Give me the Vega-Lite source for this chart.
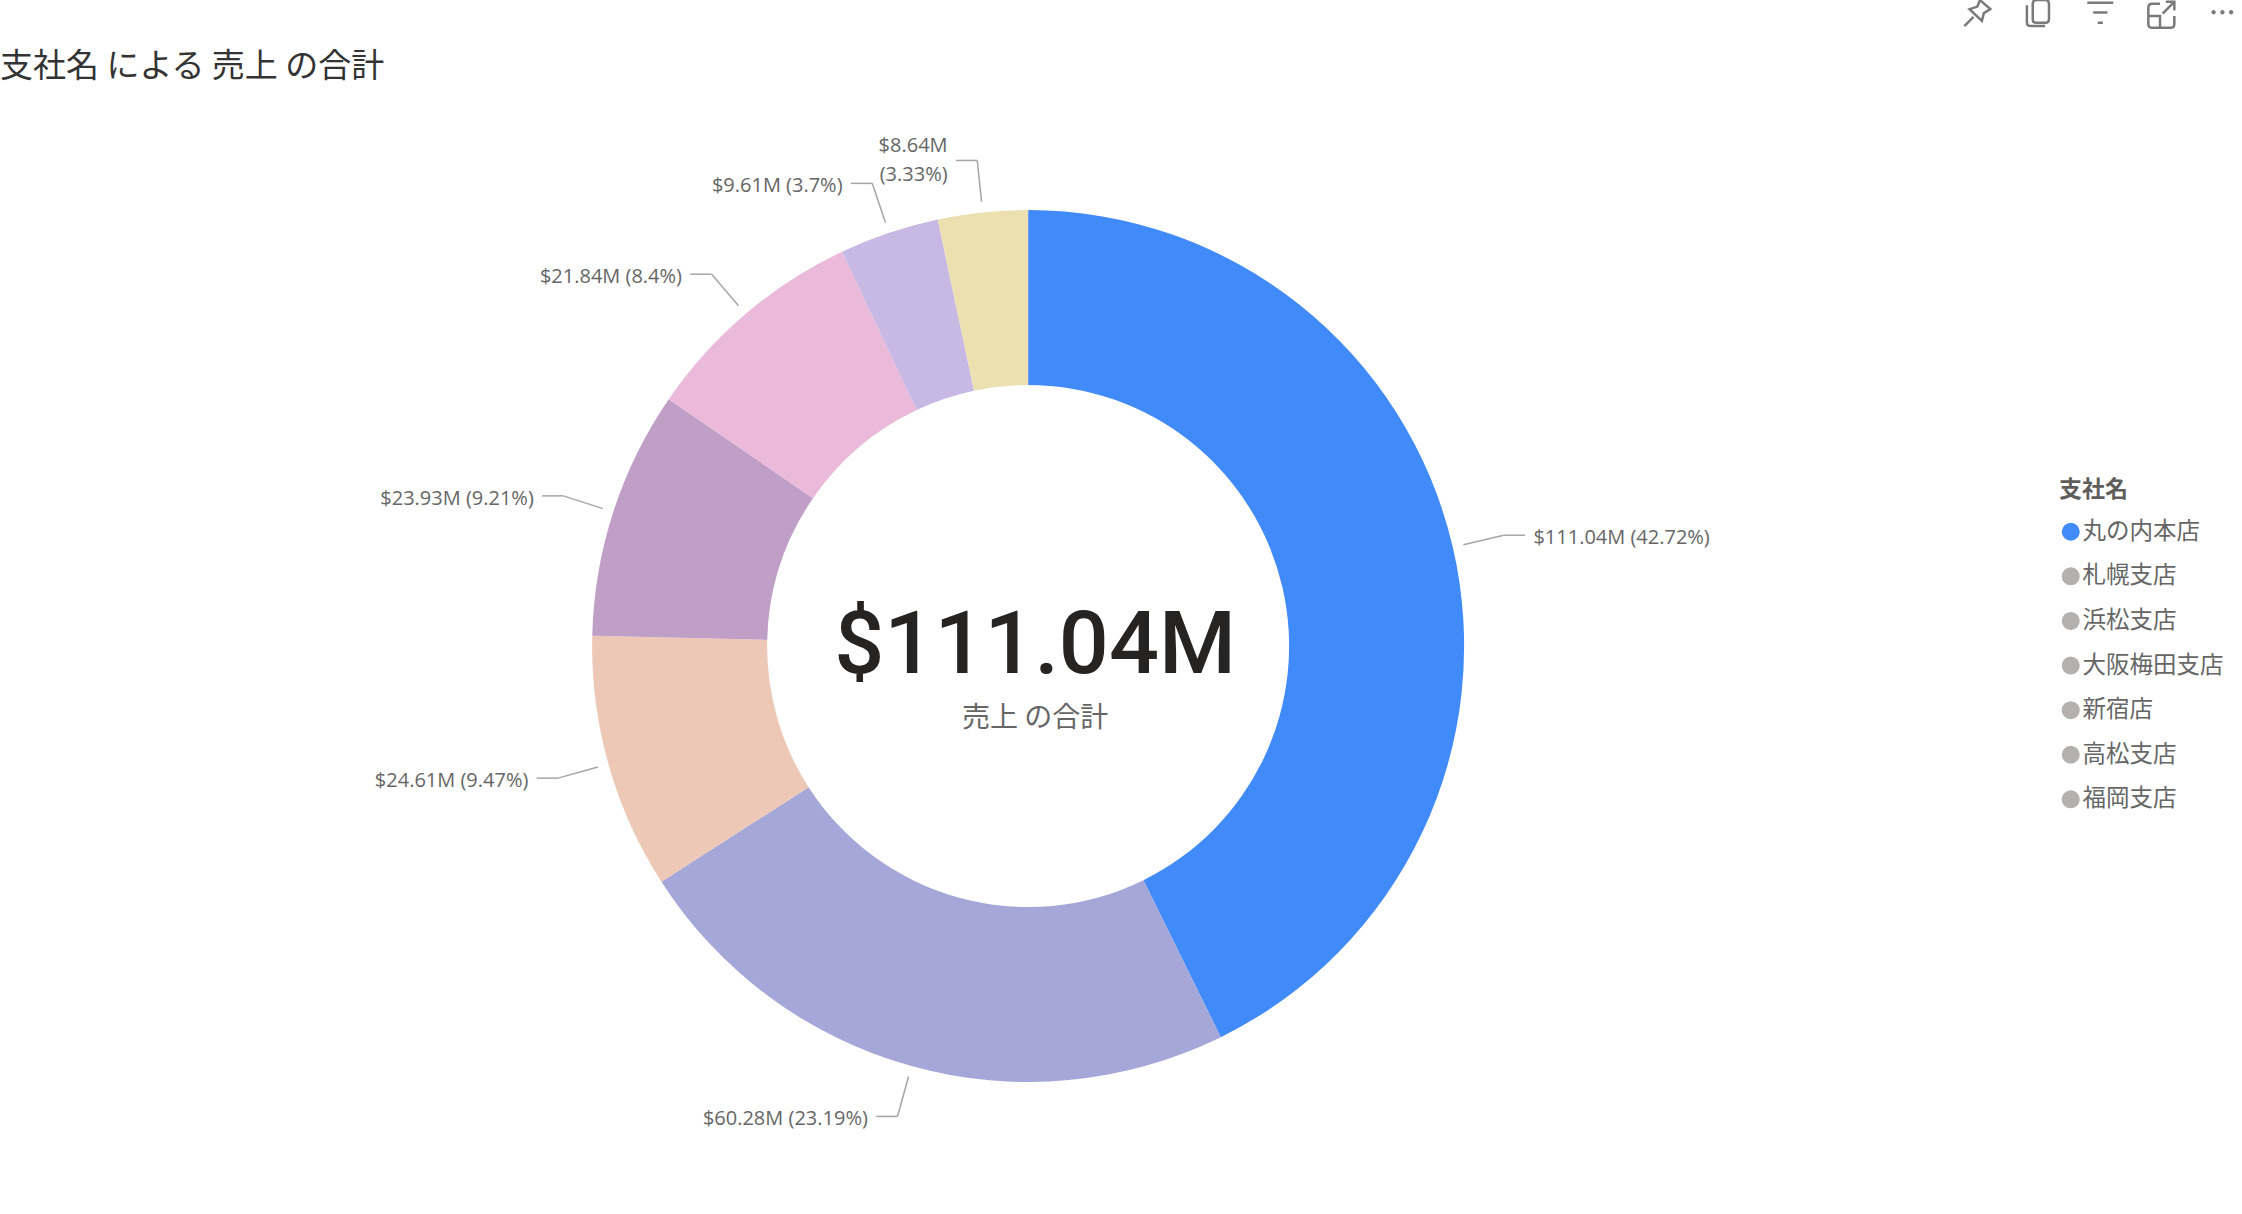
{
  "$schema": "https://vega.github.io/schema/vega-lite/v6.json",
  "description": "Power BI donut of sales by branch",
  "width": 2242,
  "height": 1214,
  "padding": 0,
  "autosize": {"type": "none"},
  "background": "white",
  "title": {
    "text": "支社名 による 売上 の合計",
    "anchor": "start",
    "frame": "group",
    "offset": -115,
    "baseline": "alphabetic",
    "font": "Noto Sans CJK JP",
    "fontSize": 33,
    "fontWeight": "normal",
    "color": "#333333"
  },
  "config": {"view": {"stroke": null}},
  "data": {
    "values": [
      {"rank": 1, "branch": "丸の内本店", "sales": 111.04, "label": "$111.04M (42.72%)"},
      {"rank": 2, "branch": "札幌支店", "sales": 60.28, "label": "$60.28M (23.19%)"},
      {"rank": 3, "branch": "浜松支店", "sales": 24.61, "label": "$24.61M (9.47%)"},
      {"rank": 4, "branch": "大阪梅田支店", "sales": 23.93, "label": "$23.93M (9.21%)"},
      {"rank": 5, "branch": "新宿店", "sales": 21.84, "label": "$21.84M (8.4%)"},
      {"rank": 6, "branch": "高松支店", "sales": 9.61, "label": "$9.61M (3.7%)"},
      {"rank": 7, "branch": "福岡支店", "sales": 8.64, "label": "$8.64M\n(3.33%)"}
    ]
  },
  "transform": [
    {"stack": "sales", "groupby": [], "sort": [{"field": "rank", "order": "ascending"}], "as": ["s0", "s1"]},
    {"joinaggregate": [{"op": "sum", "field": "sales", "as": "total"}]},
    {"calculate": "PI * (datum.s0 + datum.s1) / datum.total", "as": "mid"},
    {"calculate": "sin(datum.mid)", "as": "sx"},
    {"calculate": "cos(datum.mid)", "as": "cy"},
    {"calculate": "1.025 * datum.sx", "as": "lineX0"},
    {"calculate": "1.025 * datum.cy", "as": "lineY0"},
    {"calculate": "1.12 * datum.sx", "as": "kneeX"},
    {"calculate": "1.12 * datum.cy", "as": "kneeY"},
    {"calculate": "datum.kneeX + (datum.sx > 0 ? 0.049 : -0.049)", "as": "endX"},
    {"calculate": "datum.kneeX + (datum.sx > 0 ? 0.068 : -0.068)", "as": "labelX"}
  ],
  "layer": [
    {
      "mark": {"type": "point", "filled": true, "size": 1},
      "encoding": {
        "x": {"datum": 0, "type": "quantitative", "axis": null, "scale": {"domain": [-2.358, 2.784], "nice": false, "zero": false}},
        "y": {"datum": 0.8, "type": "quantitative", "axis": null, "scale": {"domain": [-1.303, 1.482], "nice": false, "zero": false}},
        "color": {
          "field": "branch",
          "type": "nominal",
          "scale": {
            "domain": ["丸の内本店", "札幌支店", "浜松支店", "大阪梅田支店", "新宿店", "高松支店", "福岡支店"],
            "range": ["#408AF9", "#B3B0AD", "#B3B0AD", "#B3B0AD", "#B3B0AD", "#B3B0AD", "#B3B0AD"]
          },
          "legend": {
            "title": "支社名",
            "orient": "none",
            "legendX": 2059,
            "legendY": 479,
            "titleFont": "Noto Sans CJK JP",
            "titleFontSize": 23,
            "titleFontWeight": "bold",
            "titleColor": "#605E5C",
            "titlePadding": 18,
            "labelFont": "Noto Sans CJK JP",
            "labelFontSize": 23.5,
            "labelColor": "#666666",
            "labelOffset": 0,
            "symbolType": "circle",
            "symbolSize": 324,
            "symbolOpacity": 1,
            "rowPadding": 19.6
          }
        }
      }
    },
    {
      "mark": {"type": "arc", "outerRadius": 436, "innerRadius": 261},
      "encoding": {
        "x": {"datum": 0, "type": "quantitative"},
        "y": {"datum": 0, "type": "quantitative"},
        "theta": {"field": "s0", "type": "quantitative", "scale": {"domain": [0, 259.95], "nice": false}},
        "theta2": {"field": "s1"},
        "fill": {
          "field": "branch",
          "type": "nominal",
          "legend": null,
          "scale": {
            "domain": ["丸の内本店", "札幌支店", "浜松支店", "大阪梅田支店", "新宿店", "高松支店", "福岡支店"],
            "range": ["#408AF9", "#A4A7D8", "#EEC8B6", "#C09FC7", "#EBB9DA", "#C7B9E3", "#ECE0B1"]
          }
        }
      }
    },
    {
      "mark": {"type": "rule", "color": "#A6A6A6", "strokeWidth": 1.5},
      "encoding": {
        "x": {"field": "lineX0", "type": "quantitative"},
        "y": {"field": "lineY0", "type": "quantitative"},
        "x2": {"field": "kneeX"},
        "y2": {"field": "kneeY"}
      }
    },
    {
      "mark": {"type": "rule", "color": "#A6A6A6", "strokeWidth": 1.5},
      "encoding": {
        "x": {"field": "kneeX", "type": "quantitative"},
        "y": {"field": "kneeY", "type": "quantitative"},
        "x2": {"field": "endX"}
      }
    },
    {
      "mark": {
        "type": "text",
        "font": "Open Sans",
        "fontSize": 20,
        "color": "#666666",
        "baseline": "middle",
        "lineBreak": "\n",
        "lineHeight": 29,
        "dy": {"expr": "indexof(datum.label, '\\n') >= 0 ? -14 : 3"},
        "align": {"expr": "datum.sx > 0 ? 'left' : 'right'"}
      },
      "encoding": {
        "x": {"field": "labelX", "type": "quantitative"},
        "y": {"field": "kneeY", "type": "quantitative"},
        "text": {"field": "label", "type": "nominal"}
      }
    },
    {
      "data": {"values": [{"text": "$111.04M"}]},
      "mark": {"type": "text", "font": "Roboto", "fontSize": 88, "fontWeight": 500, "color": "#252423", "baseline": "alphabetic", "align": "center"},
      "encoding": {
        "x": {"datum": 0.016, "type": "quantitative"},
        "y": {"datum": -0.062, "type": "quantitative"},
        "text": {"field": "text", "type": "nominal"}
      }
    },
    {
      "data": {"values": [{"text": "売上 の合計"}]},
      "mark": {"type": "text", "font": "Noto Sans CJK JP", "fontSize": 28, "color": "#666666", "baseline": "alphabetic", "align": "center"},
      "encoding": {
        "x": {"datum": 0.016, "type": "quantitative"},
        "y": {"datum": -0.186, "type": "quantitative"},
        "text": {"field": "text", "type": "nominal"}
      }
    },
    {
      "data": {"values": [{"icon": "pin"}]},
      "mark": {"type": "point", "shape": "M-1 1L-.3 .3M.2 -1L1 -.3L.5 0L.35 .6L-.6 -.3L0 -.5Z", "size": 676, "filled": false, "stroke": "#7A7A7A", "strokeWidth": 2.5, "opacity": 1},
      "encoding": {"x": {"datum": 2.177, "type": "quantitative"}, "y": {"datum": 1.452, "type": "quantitative"}}
    },
    {
      "data": {"values": [{"icon": "copy"}]},
      "mark": {"type": "point", "shape": "M-.85 -.6V.7Q-.85 1 -.55 1H.55M-.4 -1H.6Q.85 -1 .85 -.7V.45Q.85 .75 .6 .75H-.15Q-.4 .75 -.4 .45V-.7Q-.4 -1 -.15 -1Z", "size": 676, "filled": false, "stroke": "#7A7A7A", "strokeWidth": 2.5, "opacity": 1},
      "encoding": {"x": {"datum": 2.316, "type": "quantitative"}, "y": {"datum": 1.452, "type": "quantitative"}}
    },
    {
      "data": {"values": [{"icon": "filter"}]},
      "mark": {"type": "point", "shape": "M-1 -.8H1M-.55 -.05H.55M-.2 .75H.2", "size": 676, "filled": false, "stroke": "#7A7A7A", "strokeWidth": 2.5, "opacity": 1},
      "encoding": {"x": {"datum": 2.459, "type": "quantitative"}, "y": {"datum": 1.452, "type": "quantitative"}}
    },
    {
      "data": {"values": [{"icon": "expand"}]},
      "mark": {"type": "point", "shape": "M-.1 -.85H-.7Q-1 -.85 -1 -.55V.7Q-1 1 -.7 1H.7Q1 1 1 .7V.1M-1 .1H-.1V1M.1 -.1L.9 -.9M.35 -1H1V-.35", "size": 676, "filled": false, "stroke": "#7A7A7A", "strokeWidth": 2.5, "opacity": 1},
      "encoding": {"x": {"datum": 2.599, "type": "quantitative"}, "y": {"datum": 1.448, "type": "quantitative"}}
    },
    {
      "data": {"values": [{"icon": "more"}]},
      "mark": {"type": "point", "shape": "M-1 0a.2 .2 0 1 0 .4 0a.2 .2 0 1 0 -.4 0ZM-.2 0a.2 .2 0 1 0 .4 0a.2 .2 0 1 0 -.4 0ZM.6 0a.2 .2 0 1 0 .4 0a.2 .2 0 1 0 -.4 0Z", "size": 484, "filled": true, "fill": "#7A7A7A", "stroke": null, "opacity": 1},
      "encoding": {"x": {"datum": 2.739, "type": "quantitative"}, "y": {"datum": 1.454, "type": "quantitative"}}
    }
  ]
}
